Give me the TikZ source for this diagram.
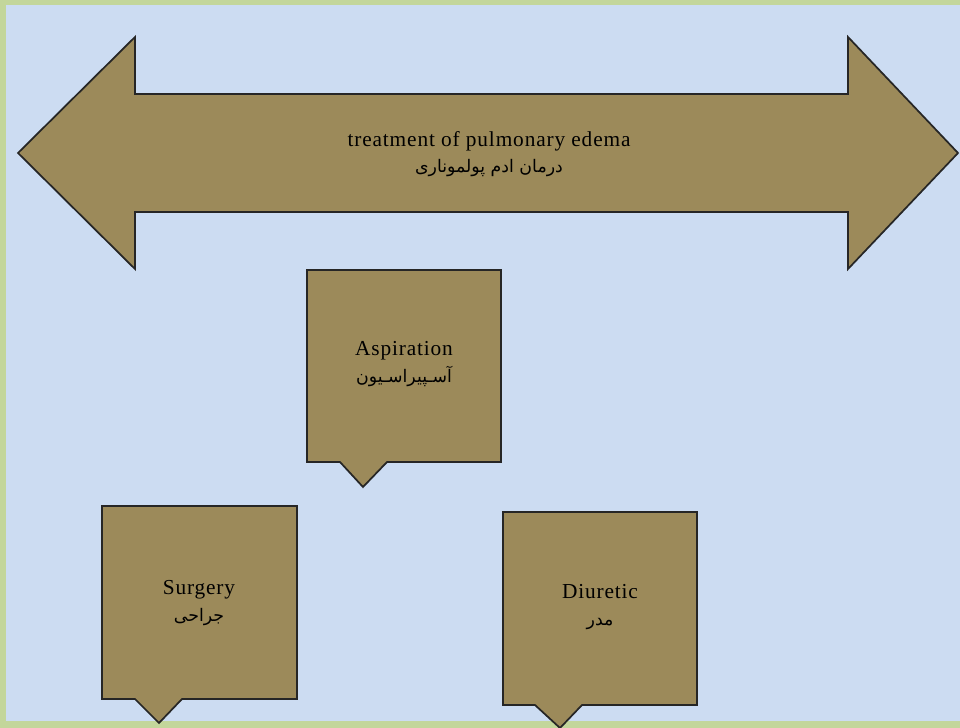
\documentclass[tikz,border=0pt]{standalone}
\usepackage{fontspec}
\setmainfont{Liberation Serif}[LetterSpace=4]
\newfontfamily\arabicfont[Script=Arabic]{DejaVu Sans}
\TeXXeTstate=1
\definecolor{frame}{HTML}{C3D69B}
\definecolor{paper}{HTML}{CCDCF2}
\definecolor{khaki}{HTML}{9C8A5A}
\tikzset{
  shapefill/.style={fill=khaki, draw=black!85, line width=1.3pt, line join=miter},
  label/.style={align=center, font=\fontsize{16}{20}\selectfont, inner sep=0pt},
}
\newcommand{\ar}[1]{{\arabicfont\fontsize{13}{20}\selectfont\beginR #1\endR}}
\begin{document}
\begin{tikzpicture}[x=0.75pt, y=-0.75pt]
  % page frame and background
  \fill[frame] (0,0) rectangle (960,728);
  \fill[paper] (6,5) rectangle (960,721);
  \useasboundingbox (0,0) rectangle (960,728);

  % double-headed arrow
  \draw[shapefill] (18,153) -- (135,37) -- (135,94) -- (848,94) -- (848,37)
     -- (958,153) -- (848,269) -- (848,212) -- (135,212) -- (135,269) -- cycle;
  \node[label] (title) at (489,154) {treatment of pulmonary edema\\ \ar{درمان ادم پولموناری}};

  % callout boxes
  \draw[shapefill] (307,270) -- (501,270) -- (501,462) -- (387,462) -- (363,487)
     -- (340,462) -- (307,462) -- cycle;
  \node[label] (asp) at (404,364) {Aspiration\\ \ar{آسـپیراسـیون}};

  \draw[shapefill] (102,506) -- (297,506) -- (297,699) -- (182,699) -- (159,723)
     -- (135,699) -- (102,699) -- cycle;
  \node[label] (surg) at (199,603) {Surgery\\ \ar{جراحی}};

  \draw[shapefill] (503,512) -- (697,512) -- (697,705) -- (582,705) -- (560,728)
     -- (535,705) -- (503,705) -- cycle;
  \node[label] (diur) at (600,607) {Diuretic\\ \ar{مدر}};
\end{tikzpicture}
\end{document}
